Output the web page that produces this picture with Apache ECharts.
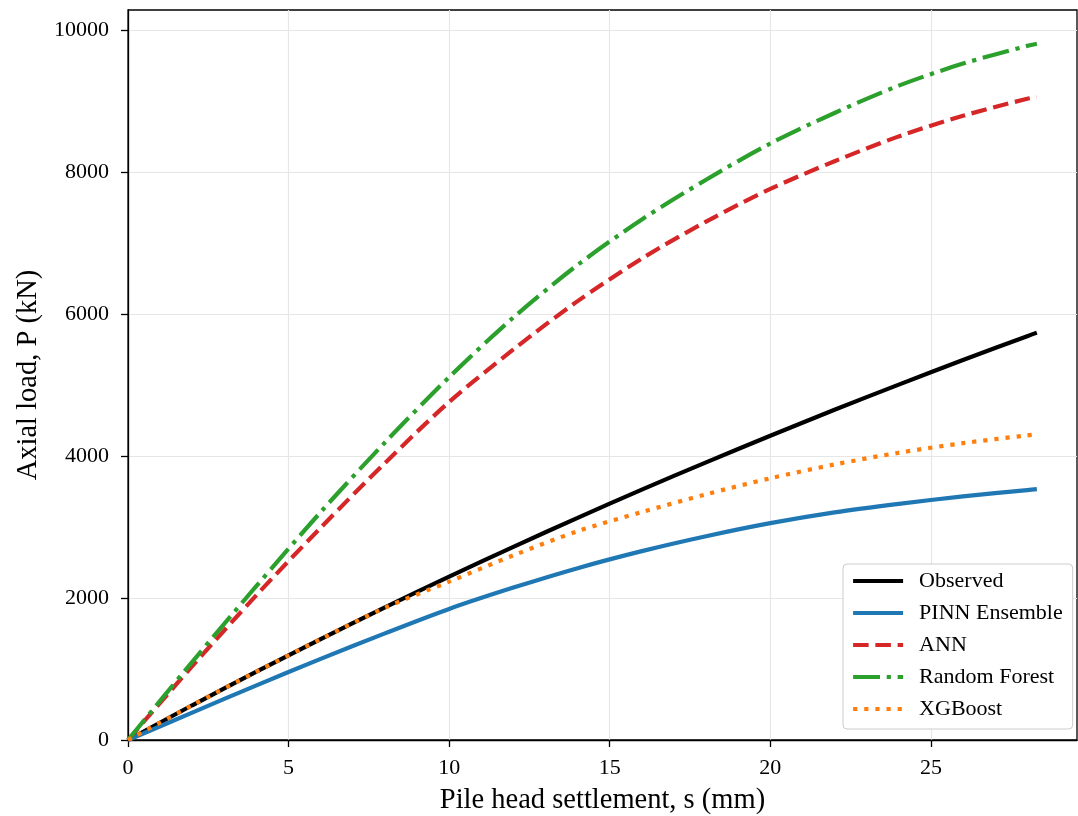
<!DOCTYPE html>
<html>
<head>
<meta charset="utf-8">
<script src="https://cdn.jsdelivr.net/npm/echarts@6/dist/echarts.min.js"></script>
<style>
html,body{margin:0;padding:0;background:#fff;}
#chart{width:1078px;height:816px;}
</style>
</head>
<body>
<div id="chart"></div>
<script>
// Settlement values (mm)
const settlement = [0, 2, 4, 6, 8, 10, 12, 14, 16, 18, 20, 22, 24, 26, 28, 28.3];
// Axial load (kN) for each curve
const observed = [0, 489, 962, 1422, 1868, 2300, 2720, 3128, 3525, 3910, 4285, 4650, 5005, 5351, 5687, 5737];
const pinnEnsemble = [0, 386, 770, 1142, 1502, 1846, 2146, 2420, 2660, 2870, 3054, 3206, 3326, 3430, 3520, 3533];
const ann = [0, 1040, 2040, 2990, 3900, 4760, 5500, 6180, 6780, 7300, 7760, 8150, 8500, 8790, 9030, 9052];
const randomForest = [0, 1100, 2170, 3210, 4190, 5110, 5950, 6690, 7330, 7890, 8400, 8830, 9215, 9525, 9775, 9805];
const xgboost = [0, 489, 962, 1422, 1862, 2230, 2600, 2940, 3210, 3460, 3686, 3880, 4045, 4180, 4290, 4305];
const seriesNames = ['Observed', 'PINN Ensemble', 'ANN', 'Random Forest', 'XGBoost'];
const xTicks = [0, 5, 10, 15, 20, 25];
const yTicks = [0, 2000, 4000, 6000, 8000, 10000];

const FONT = "'Liberation Serif', 'Times New Roman', 'DejaVu Serif', serif";
const LW = 4.2;

function pairs(ys) { return settlement.map((s, i) => [s, ys[i]]); }

const styles = [
  { color: '#000000', type: 'solid' },
  { color: '#1f77b4', type: 'solid' },
  { color: '#d62728', type: [3.7 * LW, 1.6 * LW] },
  { color: '#2ca02c', type: [6.4 * LW, 1.6 * LW, 1 * LW, 1.6 * LW] },
  { color: '#ff7f0e', type: [1 * LW, 1.65 * LW] }
];
const dataSets = [observed, pinnEnsemble, ann, randomForest, xgboost];

const series = dataSets.map((d, i) => ({
  name: seriesNames[i],
  type: 'line',
  data: pairs(d),
  showSymbol: false,
  symbol: 'none',
  smooth: 0.3,
  color: styles[i].color,
  lineStyle: { color: styles[i].color, width: LW, type: styles[i].type, cap: 'butt' },
  z: 2 + i,
  animation: false
}));

const chart = echarts.init(document.getElementById('chart'), null, { renderer: 'canvas' });
chart.setOption({
  backgroundColor: '#ffffff',
  animation: false,
  textStyle: { fontFamily: FONT },
  grid: {
    left: 128, top: 10, right: 1, bottom: 76,
    outerBoundsMode: 'none',
    containLabel: false,
    show: true, borderColor: '#000', borderWidth: 1.3, backgroundColor: 'transparent'
  },
  legend: {
    orient: 'vertical',
    left: 843, top: 564,
    padding: [6, 10, 9, 8],
    itemWidth: 50, itemHeight: 14, itemGap: 10,
    backgroundColor: '#ffffff',
    borderColor: '#cccccc', borderWidth: 1, borderRadius: 4,
    itemStyle: { opacity: 0 },
    lineStyle: { width: LW },
    textStyle: { fontFamily: FONT, fontSize: 22, color: '#000', lineHeight: 22, padding: [0, 0, 0, 11] },
    data: seriesNames
  },
  xAxis: {
    type: 'value', min: 0, max: 29.55,
    name: 'Pile head settlement, s (mm)',
    nameLocation: 'middle', nameGap: 46,
    nameTextStyle: { fontFamily: FONT, fontSize: 28.5, color: '#000' },
    axisLine: { show: true, onZero: false, lineStyle: { color: '#000', width: 1.3 } },
    axisTick: { show: true, length: 7, lineStyle: { color: '#000', width: 1.3 }, customValues: xTicks },
    axisLabel: { fontFamily: FONT, fontSize: 22, color: '#000', margin: 17, customValues: xTicks,
                 formatter: v => String(v) },
    splitLine: { show: true, lineStyle: { color: '#e6e6e6', width: 1.2 } },
    interval: 5
  },
  yAxis: {
    type: 'value', min: 0, max: 10280,
    name: 'Axial load, P (kN)',
    nameLocation: 'middle', nameGap: 85,
    nameTextStyle: { fontFamily: FONT, fontSize: 28.5, color: '#000' },
    axisLine: { show: true, onZero: false, lineStyle: { color: '#000', width: 1.3 } },
    axisTick: { show: true, length: 7, lineStyle: { color: '#000', width: 1.3 }, customValues: yTicks },
    axisLabel: { fontFamily: FONT, fontSize: 22, color: '#000', margin: 19, customValues: yTicks,
                 formatter: v => String(v) },
    splitLine: { show: true, lineStyle: { color: '#e6e6e6', width: 1.2 } },
    interval: 2000
  },
  series: series
});
</script>
</body>
</html>
